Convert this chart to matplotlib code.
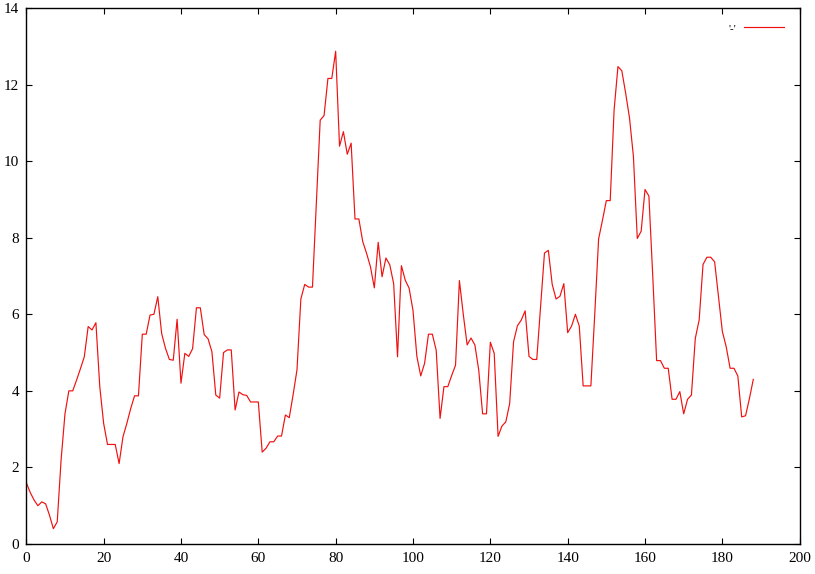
import matplotlib
matplotlib.use("Agg")
import matplotlib.pyplot as plt

plt.rcParams['font.family'] = ['Liberation Serif', 'DejaVu Serif']

x_values = list(range(0, 189))
y_values = [
    1.6, 1.35, 1.15, 1.0, 1.1, 1.05, 0.75, 0.4, 0.58, 2.2,
    3.4, 4.0, 4.0, 4.28, 4.58, 4.89, 5.68, 5.59, 5.78, 4.11,
    3.15, 2.6, 2.6, 2.6, 2.1, 2.8, 3.15, 3.54, 3.87, 3.87,
    5.48, 5.48, 5.98, 6.0, 6.46, 5.5, 5.11, 4.82, 4.8, 5.87,
    4.2, 4.98, 4.9, 5.1, 6.17, 6.17, 5.47, 5.36, 5.02, 3.89,
    3.81, 5.0, 5.07, 5.07, 3.5, 3.97, 3.9, 3.88, 3.71, 3.71,
    3.71, 2.4, 2.5, 2.67, 2.67, 2.82, 2.82, 3.37, 3.3, 3.9,
    4.55, 6.4, 6.78, 6.71, 6.71, 8.9, 11.07, 11.19, 12.16, 12.16,
    12.87, 10.39, 10.77, 10.18, 10.47, 8.49, 8.49, 7.9, 7.59, 7.24,
    6.69, 7.88, 6.98, 7.47, 7.29, 6.8, 4.89, 7.27, 6.89, 6.68,
    6.1, 4.9, 4.39, 4.72, 5.48, 5.48, 5.06, 3.28, 4.11, 4.11,
    4.4, 4.67, 6.88, 6.0, 5.2, 5.38, 5.2, 4.54, 3.4, 3.4,
    5.27, 4.98, 2.81, 3.08, 3.19, 3.67, 5.28, 5.7, 5.85, 6.09,
    4.9, 4.82, 4.82, 6.2, 7.6, 7.67, 6.78, 6.4, 6.47, 6.8,
    5.52, 5.69, 6.0, 5.69, 4.13, 4.13, 4.13, 6.0, 7.97, 8.46,
    8.97, 8.97, 11.33, 12.47, 12.36, 11.77, 11.12, 10.12, 7.98, 8.17,
    9.26, 9.09, 7.0, 4.79, 4.79, 4.59, 4.59, 3.78, 3.78, 3.98,
    3.4, 3.78, 3.89, 5.37, 5.85, 7.3, 7.49, 7.49, 7.37, 6.46,
    5.55, 5.15, 4.59, 4.59, 4.39, 3.32, 3.35, 3.8, 4.3,
]
series_label = "'-'"
x_ticks = [0, 20, 40, 60, 80, 100, 120, 140, 160, 180, 200]
y_ticks = [0, 2, 4, 6, 8, 10, 12, 14]

W, H = 815, 574
fig = plt.figure(figsize=(W / 100, H / 100), dpi=100)
left, right, top, bottom = 26.3, 799.7, 8.0, 544.0
ax = fig.add_axes([left / W, 1 - bottom / H, (right - left) / W, (bottom - top) / H])

ax.plot(x_values, y_values, color='#f01010', linewidth=0.85, label=series_label)

ax.set_xlim(0, 200)
ax.set_ylim(0, 14)
ax.set_xticks(x_ticks)
ax.set_yticks(y_ticks)
ax.tick_params(direction='in', length=4.5, width=0.8, top=True, right=True,
               labelsize=11, pad=6, colors='black')
ax.tick_params(axis='y', pad=5)
for s in ax.spines.values():
    s.set_linewidth(1.0)
    s.set_color('black')

leg = ax.legend(loc='upper right', bbox_to_anchor=(784 / W, 1 - 23 / H),
                bbox_transform=fig.transFigure, frameon=False, fontsize=8,
                markerfirst=False, handlelength=3.6, handletextpad=0.7,
                borderpad=0, borderaxespad=0)

fig.savefig('out.png', dpi=100)
